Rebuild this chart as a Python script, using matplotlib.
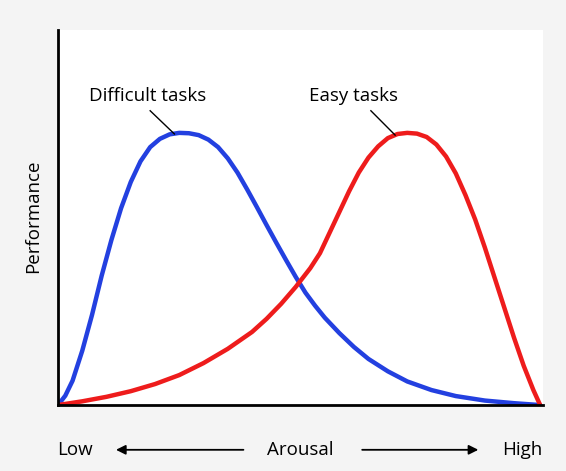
import matplotlib
matplotlib.use("Agg")
import matplotlib.pyplot as plt

plt.rcParams['font.family'] = ['Open Sans', 'DejaVu Sans']

# values (arousal 0..100, performance 0..100)
difficult_x = [0, 1.5, 3, 5, 7, 9, 11, 13, 15, 17, 19, 21, 23, 25, 27, 29, 31, 33, 35, 37,
               39, 41, 43, 45, 47, 49, 51, 53, 55, 58, 61, 64, 68, 72, 77, 82, 88, 94, 99.4]
difficult_y = [0, 2.5, 6.5, 14.5, 24, 34.5, 44, 52.5, 59.5, 65, 68.8, 71, 72.2, 72.6, 72.5,
               72, 70.8, 68.8, 65.8, 62, 57.5, 52.8, 48, 43.3, 38.7, 34.2, 30, 26.5, 23.3,
               19.2, 15.5, 12.3, 9, 6.3, 4, 2.4, 1.2, 0.5, 0]
easy_x = [0, 5, 10, 15, 20, 25, 30, 35, 40, 43, 46, 49, 52, 54, 56, 58, 60, 62, 64, 66,
          68, 70, 72, 74, 76, 78, 80, 82, 84, 86, 88, 90, 92, 94, 96, 98, 99.4]
easy_y = [0, 1, 2.2, 3.7, 5.6, 8, 11.2, 15, 19.5, 23, 27, 31.5, 36.5, 40.5, 46, 51.5, 57,
          62, 66, 69, 71.2, 72.3, 72.6, 72.4, 71.5, 69.5, 66.3, 61.8, 56, 49.5, 42, 34, 26,
          18, 10.5, 4, 0]

fig = plt.figure(figsize=(5.66, 4.71), dpi=100, facecolor='#f4f4f4')
ax = fig.add_axes([0.1025, 0.140, 0.857, 0.796])
ax.set_facecolor('white')
ax.plot(difficult_x, difficult_y, color='#2340e0', lw=3.2, solid_capstyle='round', solid_joinstyle='round')
ax.plot(easy_x, easy_y, color='#ee1c1c', lw=3.2, solid_capstyle='round', solid_joinstyle='round')
ax.set_xlim(0, 100)
ax.set_ylim(0, 100)
for s in ('top', 'right'):
    ax.spines[s].set_visible(False)
for s in ('left', 'bottom'):
    ax.spines[s].set_linewidth(2)
ax.set_xticks([]); ax.set_yticks([])

ax.text(18.5, 82.5, "Difficult tasks", fontsize=13.5, ha='center', va='center')
ax.plot([24, 19], [72.3, 78.5], color='black', lw=1)
ax.text(61, 82.5, "Easy tasks", fontsize=13.5, ha='center', va='center')
ax.plot([69.5, 64.5], [72, 78.5], color='black', lw=1)

fig.text(0.058, 0.54, "Performance", rotation=90, fontsize=13.5, ha='center', va='center')
fig.text(0.133, 0.045, "Low", fontsize=13.5, ha='center', va='center')
fig.text(0.53, 0.045, "Arousal", fontsize=13.5, ha='center', va='center')
fig.text(0.922, 0.045, "High", fontsize=13.5, ha='center', va='center')
fig.add_artist(matplotlib.patches.FancyArrowPatch((0.435, 0.045), (0.2, 0.045),
               transform=fig.transFigure, arrowstyle='-|>', mutation_scale=14, lw=1.3, color='black'))
fig.add_artist(matplotlib.patches.FancyArrowPatch((0.635, 0.045), (0.85, 0.045),
               transform=fig.transFigure, arrowstyle='-|>', mutation_scale=14, lw=1.3, color='black'))

fig.savefig("out.png", dpi=100, facecolor=fig.get_facecolor())
